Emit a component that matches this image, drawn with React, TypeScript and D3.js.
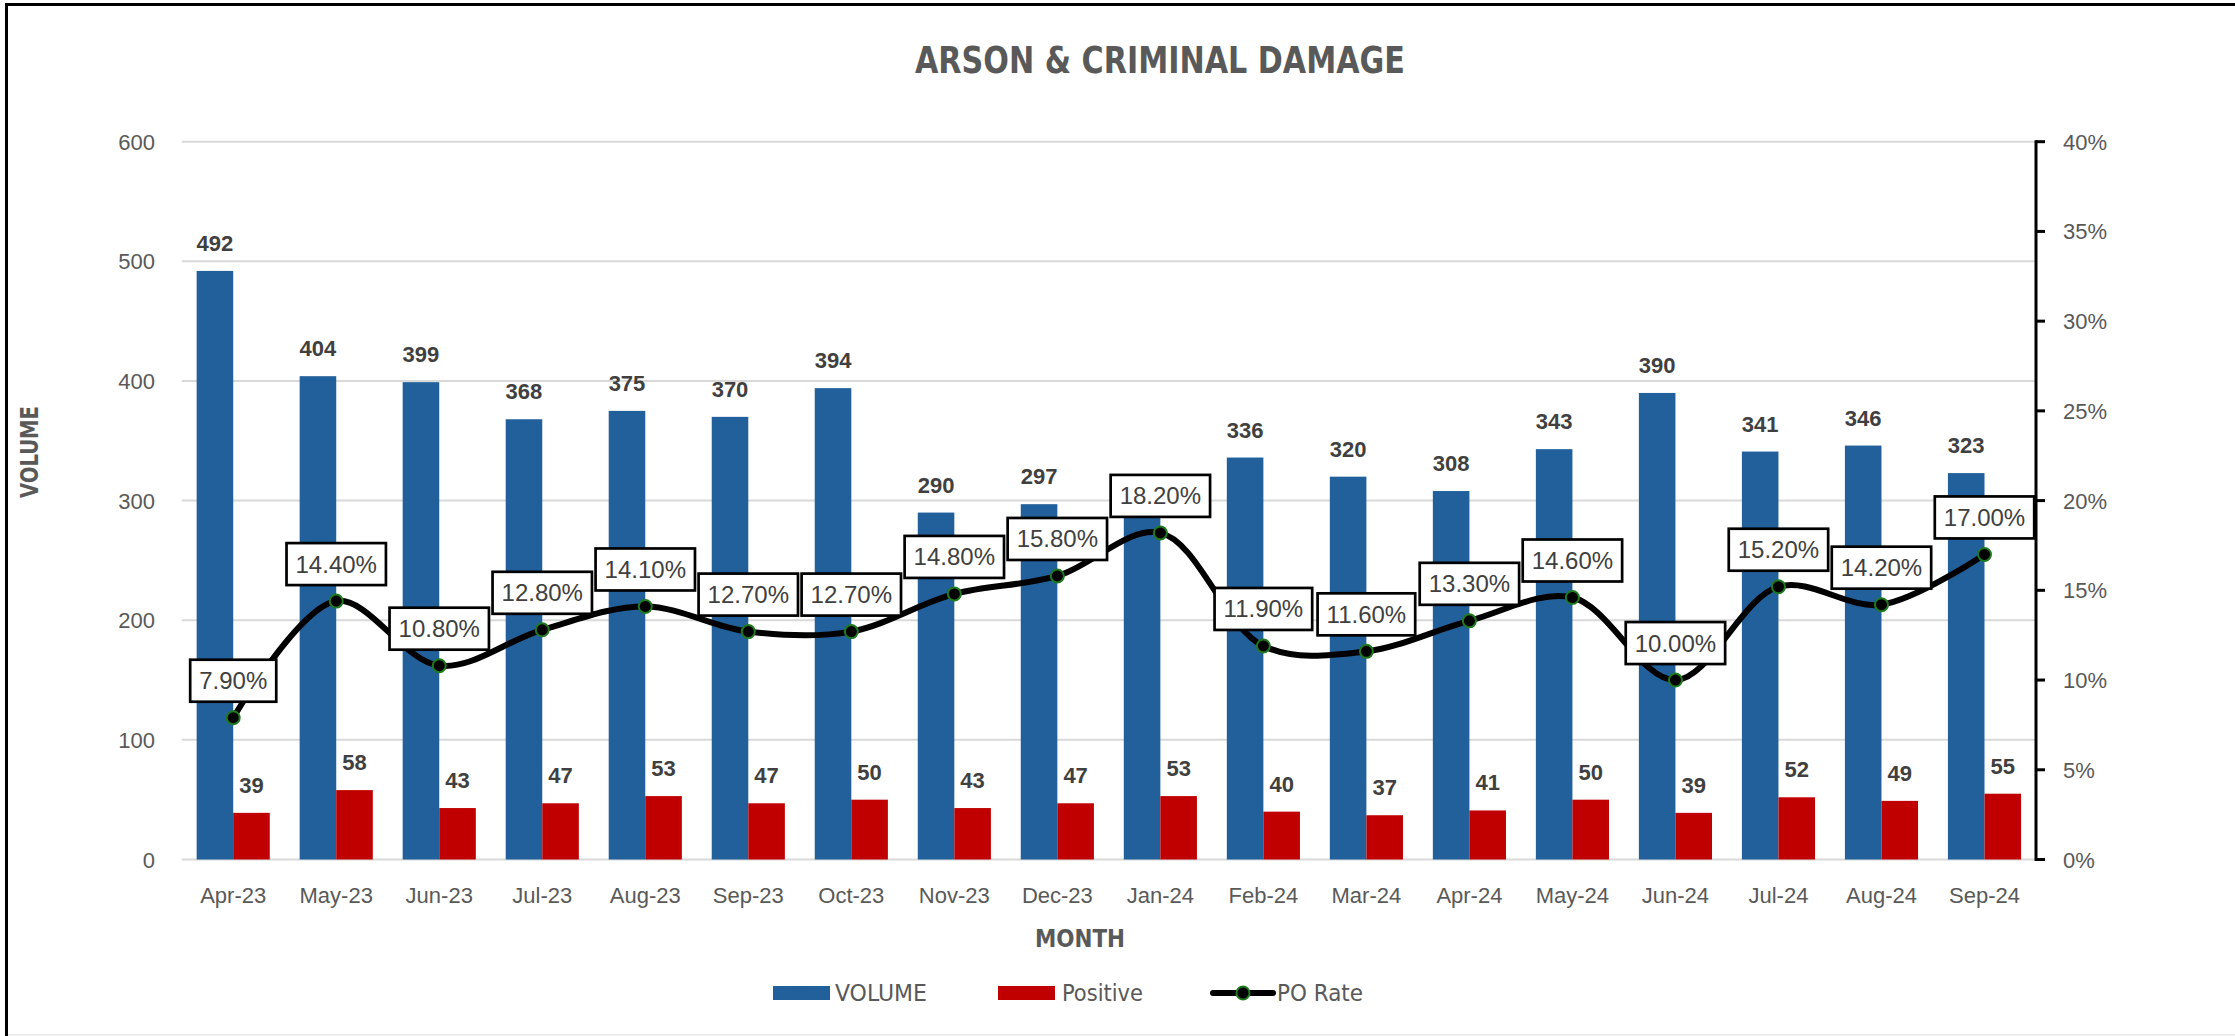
import { useEffect, useRef } from "react";
import * as d3 from "d3";

// ── Data ────────────────────────────────────────────────────────────────────
const MONTHS = [
  "Apr-23", "May-23", "Jun-23", "Jul-23", "Aug-23", "Sep-23", "Oct-23", "Nov-23", "Dec-23",
  "Jan-24", "Feb-24", "Mar-24", "Apr-24", "May-24", "Jun-24", "Jul-24", "Aug-24", "Sep-24",
];
const VOLUME = [492, 404, 399, 368, 375, 370, 394, 290, 297, 291, 336, 320, 308, 343, 390, 341, 346, 323];
const POSITIVE = [39, 58, 43, 47, 53, 47, 50, 43, 47, 53, 40, 37, 41, 50, 39, 52, 49, 55];
const PO_RATE = [7.9, 14.4, 10.8, 12.8, 14.1, 12.7, 12.7, 14.8, 15.8, 18.2, 11.9, 11.6, 13.3, 14.6, 10.0, 15.2, 14.2, 17.0];
const VOLUME_TICKS = [0, 100, 200, 300, 400, 500, 600];
const RATE_TICKS = [0, 5, 10, 15, 20, 25, 30, 35, 40];

const W = 2235;
const H = 1036;

const BLUE = "#22609c";
const RED = "#c00000";
const GREEN = "#1f7a1f";
const GREY_TXT = "#595959";
const DARK_TXT = "#404040";

const SANS = "'Liberation Sans', Arial, sans-serif";
const NARROW = "'Liberation Sans Narrow', 'DejaVu Sans Condensed', 'Liberation Sans', sans-serif";

// rate label box geometry (relative to its point)
const BOX_OFFSET = 37;
const BOX_H = 42;

export default function App() {
  const svgRef = useRef<SVGSVGElement>(null);

  useEffect(() => {
    const svg = d3.select(svgRef.current!);
    svg.selectAll("*").remove();

    const x = d3.scaleBand<string>()
      .domain(MONTHS)
      .range([181.7, 2036])
      .paddingInner(0.29)
      .paddingOuter(0.145);
    const yL = d3.scaleLinear().domain([0, 600]).range([859.5, 141.7]);
    const yR = d3.scaleLinear().domain([0, 40]).range([859.5, 141.7]);
    const bw = x.bandwidth() / 2;
    const cx = (m: string) => (x(m) ?? 0) + x.bandwidth() / 2;

    // frame
    svg.append("rect").attr("width", W).attr("height", H).attr("fill", "#fff");
    svg.append("line").attr("x1", 5).attr("x2", W).attr("y1", 4.5).attr("y2", 4.5)
      .attr("stroke", "#000").attr("stroke-width", 3);
    svg.append("line").attr("x1", 6.5).attr("x2", 6.5).attr("y1", 3).attr("y2", H)
      .attr("stroke", "#000").attr("stroke-width", 3);
    svg.append("line").attr("x1", 8).attr("x2", W).attr("y1", 1035).attr("y2", 1035)
      .attr("stroke", "#e6e6e6").attr("stroke-width", 1.5);

    // title
    svg.append("text")
      .attr("x", 1160).attr("y", 73)
      .attr("text-anchor", "middle")
      .attr("font-family", NARROW).attr("font-weight", 700).attr("font-size", 37)
      .attr("fill", GREY_TXT)
      .attr("textLength", 490).attr("lengthAdjust", "spacingAndGlyphs")
      .text("ARSON & CRIMINAL DAMAGE");

    // gridlines
    svg.append("g").selectAll("line")
      .data(VOLUME_TICKS)
      .join("line")
      .attr("x1", 181.7).attr("x2", 2035)
      .attr("y1", (d) => yL(d)).attr("y2", (d) => yL(d))
      .attr("stroke", "#d9d9d9").attr("stroke-width", 2);

    // left axis labels
    svg.append("g").selectAll("text")
      .data(VOLUME_TICKS)
      .join("text")
      .attr("x", 155).attr("y", (d) => yL(d) + 8)
      .attr("text-anchor", "end")
      .attr("font-family", SANS).attr("font-size", 22).attr("fill", GREY_TXT)
      .text((d) => d);

    // right axis
    const right = svg.append("g");
    right.append("line").attr("x1", 2036).attr("x2", 2036)
      .attr("y1", yR(40) - 1.5).attr("y2", yR(0) + 1.5)
      .attr("stroke", "#000").attr("stroke-width", 3);
    right.selectAll("line.tick")
      .data(RATE_TICKS)
      .join("line")
      .attr("class", "tick")
      .attr("x1", 2036).attr("x2", 2045)
      .attr("y1", (d) => yR(d)).attr("y2", (d) => yR(d))
      .attr("stroke", "#000").attr("stroke-width", 3);
    right.selectAll("text")
      .data(RATE_TICKS)
      .join("text")
      .attr("x", 2063).attr("y", (d) => yR(d) + 8)
      .attr("font-family", SANS).attr("font-size", 22).attr("fill", GREY_TXT)
      .text((d) => `${d}%`);

    // x axis labels
    svg.append("g").selectAll("text")
      .data(MONTHS)
      .join("text")
      .attr("x", cx).attr("y", 903)
      .attr("text-anchor", "middle")
      .attr("font-family", SANS).attr("font-size", 22).attr("fill", GREY_TXT)
      .text((d) => d);

    // axis titles
    svg.append("text")
      .attr("x", 1080).attr("y", 947)
      .attr("text-anchor", "middle")
      .attr("font-family", NARROW).attr("font-weight", 700).attr("font-size", 25)
      .attr("fill", GREY_TXT)
      .attr("textLength", 90).attr("lengthAdjust", "spacingAndGlyphs")
      .text("MONTH");
    svg.append("text")
      .attr("transform", "translate(38,452) rotate(-90)")
      .attr("text-anchor", "middle")
      .attr("font-family", NARROW).attr("font-weight", 700).attr("font-size", 25)
      .attr("fill", GREY_TXT)
      .attr("textLength", 92).attr("lengthAdjust", "spacingAndGlyphs")
      .text("VOLUME");

    // bars
    const bars = svg.append("g");
    bars.selectAll("rect.vol")
      .data(MONTHS)
      .join("rect")
      .attr("class", "vol")
      .attr("x", (d) => x(d)!)
      .attr("y", (_, i) => yL(VOLUME[i]))
      .attr("width", bw)
      .attr("height", (_, i) => yL(0) - yL(VOLUME[i]))
      .attr("fill", BLUE);
    bars.selectAll("rect.pos")
      .data(MONTHS)
      .join("rect")
      .attr("class", "pos")
      .attr("x", (d) => x(d)! + bw)
      .attr("y", (_, i) => yL(POSITIVE[i]))
      .attr("width", bw)
      .attr("height", (_, i) => yL(0) - yL(POSITIVE[i]))
      .attr("fill", RED);

    // bar value labels – a volume label sitting under its month's rate box is
    // covered in the original, so it is left out here
    const hiddenByBox = (i: number) => {
      const labelMid = yL(VOLUME[i]) - 28;
      const boxMid = yR(PO_RATE[i]) - BOX_OFFSET;
      return Math.abs(labelMid - boxMid) < BOX_H / 2;
    };
    const barLabels = svg.append("g")
      .attr("font-family", SANS).attr("font-weight", 700).attr("font-size", 22)
      .attr("fill", DARK_TXT).attr("text-anchor", "middle");
    barLabels.selectAll("text.vol")
      .data(MONTHS.filter((_, i) => !hiddenByBox(i)))
      .join("text")
      .attr("class", "vol")
      .attr("x", (d) => x(d)! + bw / 2)
      .attr("y", (d) => yL(VOLUME[MONTHS.indexOf(d)]) - 20)
      .text((d) => VOLUME[MONTHS.indexOf(d)]);
    barLabels.selectAll("text.pos")
      .data(MONTHS)
      .join("text")
      .attr("class", "pos")
      .attr("x", (d) => x(d)! + bw * 1.5)
      .attr("y", (_, i) => yL(POSITIVE[i]) - 20)
      .text((_, i) => POSITIVE[i]);

    // PO rate line
    const pts: [number, number][] = MONTHS.map((m, i) => [cx(m), yR(PO_RATE[i])]);
    const line = d3.line().curve(d3.curveCatmullRom.alpha(0.5));
    svg.append("path")
      .attr("d", line(pts))
      .attr("fill", "none")
      .attr("stroke", "#000")
      .attr("stroke-width", 6)
      .attr("stroke-linejoin", "round");
    svg.append("g").selectAll("circle")
      .data(pts)
      .join("circle")
      .attr("cx", (d) => d[0]).attr("cy", (d) => d[1])
      .attr("r", 6.5)
      .attr("fill", "#000")
      .attr("stroke", GREEN).attr("stroke-width", 2);

    // rate labels in boxes
    const fmt = d3.format(".2f");
    const rateG = svg.append("g");
    pts.forEach(([px, py], i) => {
      const g = rateG.append("g").attr("transform", `translate(${px},${py - BOX_OFFSET})`);
      const rect = g.append("rect");
      const t = g.append("text")
        .attr("text-anchor", "middle")
        .attr("y", 8.5)
        .attr("font-family", SANS).attr("font-size", 24).attr("fill", DARK_TXT)
        .text(`${fmt(PO_RATE[i])}%`);
      const tw = (t.node() as SVGTextElement).getComputedTextLength();
      const bwBox = tw + 18;
      rect.attr("x", -bwBox / 2).attr("y", -BOX_H / 2)
        .attr("width", bwBox).attr("height", BOX_H)
        .attr("fill", "#fff").attr("stroke", "#000").attr("stroke-width", 2.7);
    });

    // legend
    const leg = svg.append("g")
      .attr("font-family", NARROW).attr("font-size", 23).attr("fill", GREY_TXT);
    leg.append("rect").attr("x", 773).attr("y", 986).attr("width", 57).attr("height", 14).attr("fill", BLUE);
    leg.append("text").attr("x", 835).attr("y", 1001)
      .attr("textLength", 92).attr("lengthAdjust", "spacingAndGlyphs").text("VOLUME");
    leg.append("rect").attr("x", 998).attr("y", 986).attr("width", 57).attr("height", 14).attr("fill", RED);
    leg.append("text").attr("x", 1062).attr("y", 1001)
      .attr("textLength", 81).attr("lengthAdjust", "spacingAndGlyphs").text("Positive");
    leg.append("line").attr("x1", 1213).attr("x2", 1273).attr("y1", 993).attr("y2", 993)
      .attr("stroke", "#000").attr("stroke-width", 6).attr("stroke-linecap", "round");
    leg.append("circle").attr("cx", 1243).attr("cy", 993).attr("r", 6.5)
      .attr("fill", "#000").attr("stroke", GREEN).attr("stroke-width", 2);
    leg.append("text").attr("x", 1277).attr("y", 1001)
      .attr("textLength", 86).attr("lengthAdjust", "spacingAndGlyphs").text("PO Rate");
  }, []);

  return (
    <svg
      ref={svgRef}
      width={W}
      height={H}
      style={{ position: "absolute", left: 0, top: 0, display: "block" }}
    />
  );
}
